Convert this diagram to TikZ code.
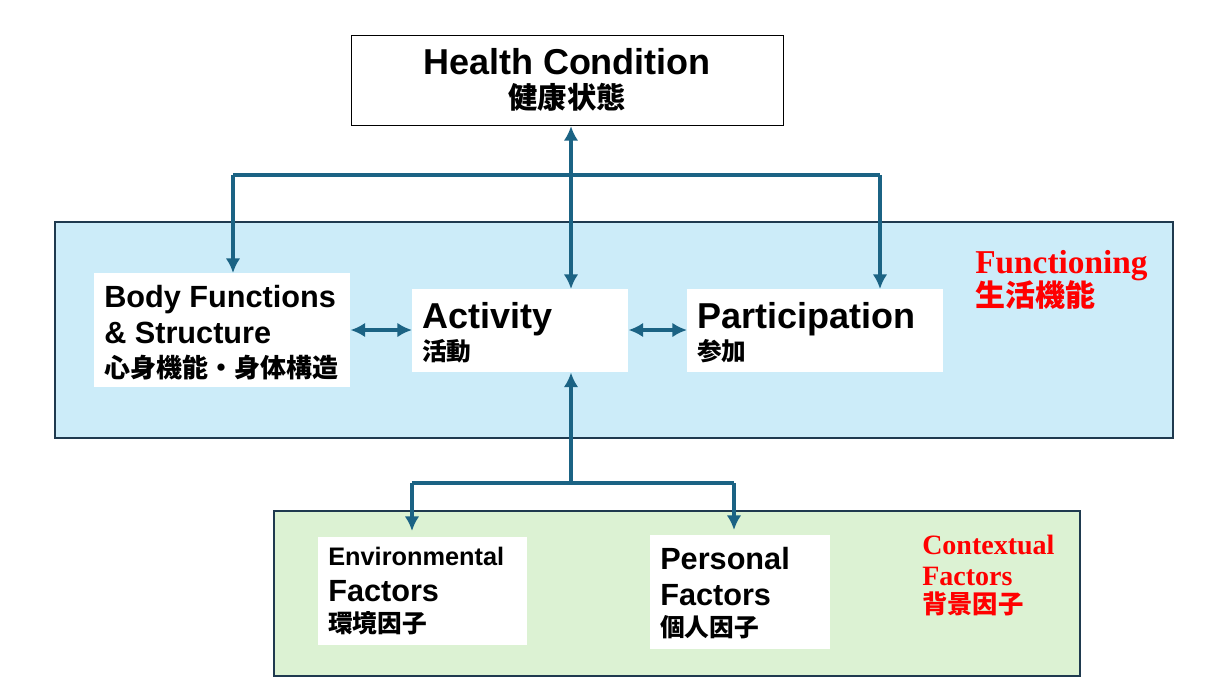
\documentclass[tikz,border=0pt]{standalone}
\usepackage{fontspec}
\setmainfont{Liberation Sans}
\newfontfamily\cjk{Noto Sans CJK JP}
\newfontfamily\serifr{Liberation Serif}
\usetikzlibrary{arrows.meta}
\definecolor{arr}{HTML}{1B6384}
\definecolor{fblue}{HTML}{CCECF9}
\definecolor{fgreen}{HTML}{DCF2D3}
\definecolor{bord}{HTML}{1F3A4F}
\begin{document}
\begin{tikzpicture}[x=0.75pt,y=-0.75pt,
 con/.style={draw=arr,line width=2.6pt,-{Latex[length=11pt,width=11pt]}},
 dcon/.style={draw=arr,line width=2.6pt,{Latex[length=11pt,width=11pt]}-{Latex[length=11pt,width=11pt]}},
 ln/.style={draw=arr,line width=2.6pt},
 wb/.style={fill=white,draw=none},
 t/.style={anchor=base west,inner sep=0pt},
 tc/.style={anchor=base,inner sep=0pt},
 L/.style={font=\bfseries\fontsize{#1}{#1}\selectfont},
 J/.style={font=\cjk\bfseries\fontsize{#1}{#1}\selectfont},
 R/.style={text=red,font=\serifr\bfseries\fontsize{#1}{#1}\selectfont},
 RJ/.style={text=red,font=\cjk\bfseries\fontsize{#1}{#1}\selectfont}]
\useasboundingbox (0,0) rectangle (1218,690);
\fill[fblue,draw=bord,line width=1.2pt] (55,222) rectangle (1173,438);
\fill[fgreen,draw=bord,line width=1.2pt] (274,511) rectangle (1080,676);
\node[draw=black,fill=white,line width=0.8pt,minimum width=432*0.75pt,minimum height=90*0.75pt,inner sep=0pt,anchor=north west] (hc) at (351,35) {};
\node[tc,L=27] at (567,74) {Health Condition};
\node[tc,J=22] at (567,108) {健康状態};
\node[wb,minimum width=256*0.75pt,minimum height=114*0.75pt,anchor=north west,inner sep=0pt] (bf) at (94,273) {};
\node[wb,minimum width=216*0.75pt,minimum height=83*0.75pt,anchor=north west,inner sep=0pt] (ac) at (412,289) {};
\node[wb,minimum width=256*0.75pt,minimum height=83*0.75pt,anchor=north west,inner sep=0pt] (pa) at (687,289) {};
\node[wb,minimum width=209*0.75pt,minimum height=108*0.75pt,anchor=north west,inner sep=0pt] (en) at (318,537) {};
\node[wb,minimum width=180*0.75pt,minimum height=114*0.75pt,anchor=north west,inner sep=0pt] (pe) at (650,535) {};
\node[t,L=23] at (104,307) {Body Functions};
\node[t,L=23] at (104,343) {\& Structure};
\node[t,J=19.5] at (104,377) {心身機能・身体構造};
\node[t,L=27] at (422,328) {Activity};
\node[t,J=18.5] at (422,360) {活動};
\node[t,L=27] at (697,328) {Participation};
\node[t,J=18.5] at (697,360) {参加};
\node[t,L=19] at (328,565) {Environmental};
\node[t,L=23] at (328,601) {Factors};
\node[t,J=18.5] at (328,632) {環境因子};
\node[t,L=23] at (660,569) {Personal};
\node[t,L=23] at (660,605) {Factors};
\node[t,J=18.5] at (660,636) {個人因子};
\node[t,R=25] at (975,273) {Functioning};
\node[t,RJ=22.5] at (975,306) {生活機能};
\node[t,R=21] at (922,554) {Contextual};
\node[t,R=21] at (922,585) {Factors};
\node[t,RJ=19] at (922,613) {背景因子};
\coordinate (t1) at (233,175);
\coordinate (t2) at (880,175);
\coordinate (b0) at (571,483);
\coordinate (b1) at (412,483);
\coordinate (b2) at (734,483);
\draw[dcon] (hc.south -| 571,0) -- (ac.north -| 571,0);
\draw[ln] (t1) -- (t2);
\draw[con] (t1) -- (t1 |- bf.north);
\draw[con] (t2) -- (t2 |- pa.north);
\draw[dcon] (bf.east |- 0,330) -- (ac.west |- 0,330);
\draw[dcon] (ac.east |- 0,330) -- (pa.west |- 0,330);
\draw[con] (b0) -- (ac.south -| b0);
\draw[ln] (b1) -- (b2);
\draw[con] (b1) -- ++(0,48);
\draw[con] (b2) -- ++(0,47);
\end{tikzpicture}
\end{document}
